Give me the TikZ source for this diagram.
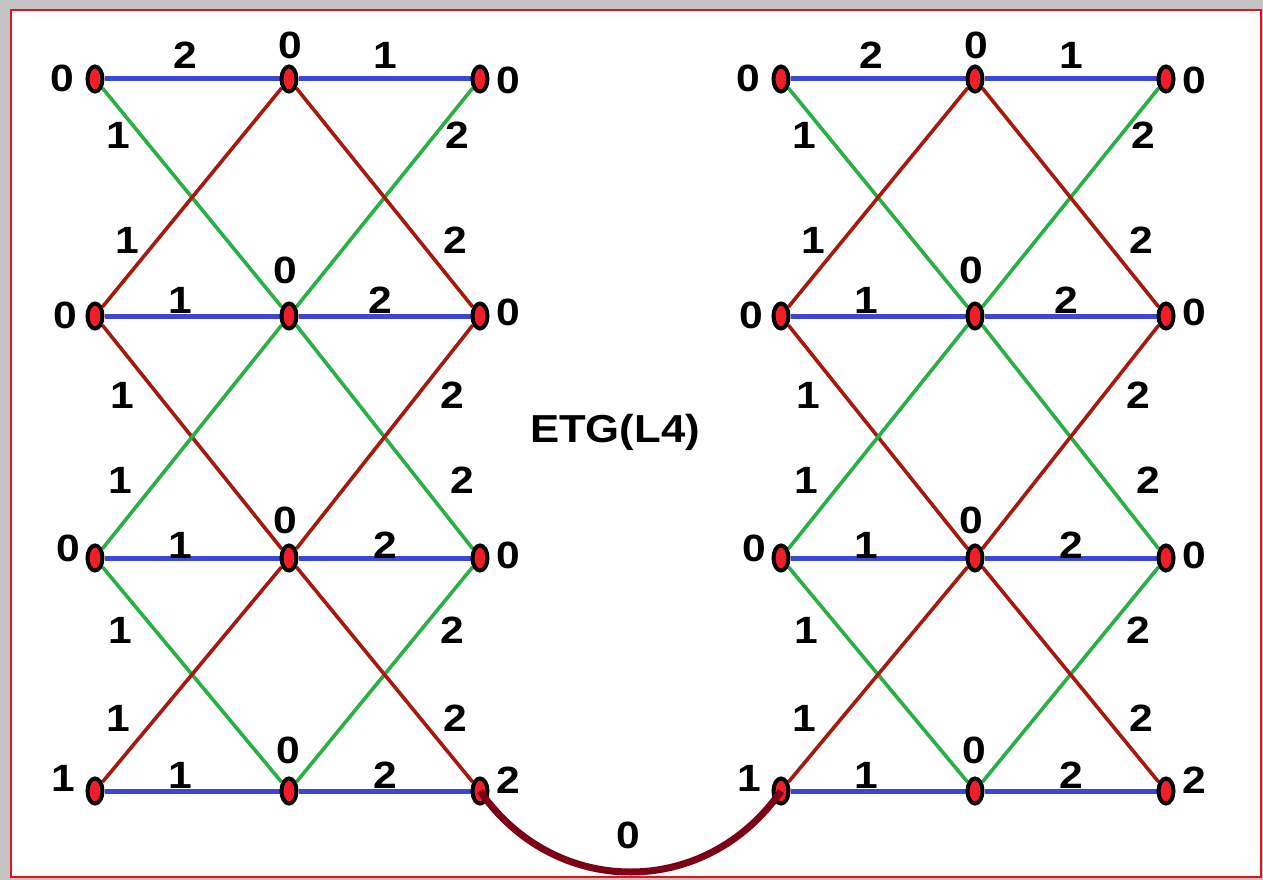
\documentclass[tikz,border=0pt]{standalone}
\usepackage{fontspec}
\setmainfont{Liberation Sans}
\usetikzlibrary{shapes.geometric,backgrounds}
\definecolor{blueE}{RGB}{60,70,215}
\definecolor{greenE}{RGB}{40,175,70}
\definecolor{redE}{RGB}{165,25,15}
\definecolor{vred}{RGB}{240,30,40}
\definecolor{curveC}{RGB}{125,0,20}
\definecolor{shadowC}{RGB}{195,195,195}
\definecolor{frameC}{RGB}{225,20,30}
\begin{document}
\begin{tikzpicture}[x=1pt,y=-1pt,
  vtx/.style={ellipse,draw=black,fill=vred,line width=4pt,minimum width=15pt,minimum height=25pt,inner sep=0pt},
  hedge/.style={blueE,line width=5pt},
  gedge/.style={greenE,line width=3.6pt},
  redge/.style={redE,line width=3.6pt},
  lbl/.style={font=\fontsize{38}{38}\selectfont\bfseries,inner sep=0pt,xscale=1.12},
  title/.style={font=\fontsize{39}{39}\selectfont\bfseries,inner sep=0pt,xscale=1.12}]
\useasboundingbox (0,0) rectangle (1263,880);
\begin{scope}[on background layer]
  \fill[shadowC] (0,0) rectangle (1263,880);
  \draw[frameC,line width=2pt,fill=white] (11,10) rectangle (1261,877);
\end{scope}
\foreach \p/\dx in {A/0,B/686}{
  \foreach \r/\y in {1/79,2/316,3/558,4/791}{
    \node[vtx] (\p-\r-1) at (\dx+95,\y) {};
    \node[vtx] (\p-\r-2) at (\dx+289,\y) {};
    \node[vtx] (\p-\r-3) at (\dx+480,\y) {};
  }
  \begin{scope}[on background layer]
    \foreach \r in {1,2,3,4}{
      \draw[hedge] (\p-\r-1) -- (\p-\r-2);
      \draw[hedge] (\p-\r-2) -- (\p-\r-3);
    }
    \draw[gedge] (\p-1-1) -- (\p-2-2);
    \draw[gedge] (\p-1-3) -- (\p-2-2);
    \draw[redge] (\p-1-2) -- (\p-2-1);
    \draw[redge] (\p-1-2) -- (\p-2-3);
    \draw[redge] (\p-2-1) -- (\p-3-2);
    \draw[gedge] (\p-2-2) -- (\p-3-1);
    \draw[gedge] (\p-2-2) -- (\p-3-3);
    \draw[redge] (\p-2-3) -- (\p-3-2);
    \draw[gedge] (\p-3-1) -- (\p-4-2);
    \draw[redge] (\p-3-2) -- (\p-4-1);
    \draw[gedge] (\p-3-3) -- (\p-4-2);
    \draw[redge] (\p-3-2) -- (\p-4-3);
  \end{scope}
  \foreach \lx/\ly/\t [count=\i] in {62/78/0,290/45/0,508/80/0,
      65/315/0,285/270/0,508/312/0,
      68/548/0,285/520/0,508/555/0,
      63/778/1,288/750/0,508/780/2,
      185/55/2,385/55/1,
      118/135/1,457/135/2,127/240/1,455/240/2,
      180/300/1,380/300/2,
      122/395/1,452/395/2,120/480/1,462/480/2,
      180/545/1,385/545/2,
      120/630/1,452/630/2,118/718/1,455/718/2,
      180/775/1,385/775/2}{
    \node[lbl] (\p-lbl-\i) at (\dx+\lx,\ly) {\t};
  }
}
\draw[curveC,line width=7pt] (A-4-3.center) .. controls +(75,108) and +(-75,108) .. (B-4-1.center);
\node[lbl] (curvelbl) at (628,835) {0};
\node[title] (etg) at (615,432) {ETG(L4)};
\end{tikzpicture}
\end{document}
